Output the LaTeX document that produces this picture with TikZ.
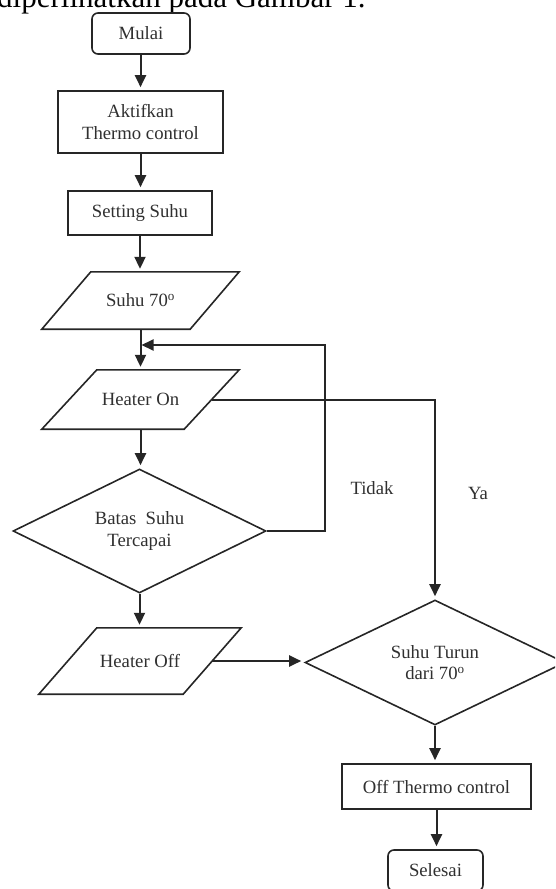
\documentclass[tikz,border=0pt]{standalone}
\usepackage{fontspec}
\setmainfont{Liberation Serif}
\usetikzlibrary{arrows.meta,shapes.geometric}
\definecolor{ink}{HTML}{262626}
\definecolor{txt}{HTML}{303030}
\newcommand{\slantbox}[2]{\draw[line] ([xshift=#2]#1.north west) -- ([xshift=#2]#1.north east) -- ([xshift=-#2]#1.south east) -- ([xshift=-#2]#1.south west) -- cycle;}
\begin{document}
\begin{tikzpicture}[x=1pt,y=-1pt,
  line/.style={draw=ink, line width=1.6pt},
  arr/.style={draw=ink, line width=2pt, -{Triangle[length=12pt,width=11pt]}, shorten >=3pt},
  arrloop/.style={draw=ink, line width=2pt, -{Triangle[length=12pt,width=11pt]}, shorten >=1pt},
  base/.style={inner sep=0pt, align=center, text=txt, font=\fontsize{18.7}{21.5}\selectfont},
  term/.style={base, draw=ink, line width=1.6pt, rounded corners=6pt},
  proc/.style={base, draw=ink, line width=1.6pt},
  io/.style={base},
  dec/.style={base, shape=diamond, aspect=2, draw=ink, line width=1.6pt},
  lbl/.style={base},
  captext/.style={inner sep=0pt, anchor=base west, text=black, font=\fontsize{31}{36}\selectfont}
]
\useasboundingbox (0,0) rectangle (555,889);
\clip (0,0) rectangle (555,889);

\node[captext] (caption) at (-3,7) {diperlihatkan pada Gambar 1.};

\node[term, minimum width=98, minimum height=41] (mulai) at (141,33.5) {Mulai};
\node[proc, minimum width=165, minimum height=62] (akt) at (140.5,122) {Aktifkan\\Thermo control};
\node[proc, minimum width=144, minimum height=44] (set) at (140,213) {Setting Suhu};
\node[io, minimum width=148, minimum height=57] (s70) at (140.5,300.5) {Suhu 70\textsuperscript{o}};
\slantbox{s70}{24.5}
\node[io, minimum width=142, minimum height=59] (hon) at (140.5,399.5) {Heater On};
\slantbox{hon}{27.5}
\node[dec, minimum width=253, minimum height=124] (batas) at (139.5,531) {Batas\ \ Suhu\\Tercapai};
\node[io, minimum width=144, minimum height=66] (hoff) at (140,661) {Heater Off};
\slantbox{hoff}{29}
\node[dec, minimum width=260, minimum height=125] (turun) at (435,662.5) {Suhu Turun\\dari 70\textsuperscript{o}};
\node[proc, minimum width=189, minimum height=45] (off) at (436.5,786.5) {Off Thermo control};
\node[term, minimum width=95, minimum height=41] (sel) at (435.5,870.5) {Selesai};

\node[lbl] (tidak) at (372,488) {Tidak};
\node[lbl] (ya) at (478,493) {Ya};

\coordinate (loop) at (325,345);

\draw[arr] (mulai.south -| akt.north) -- (akt.north);
\draw[arr] (akt.south) -- (akt.south |- set.north);
\draw[arr] (set.south) -- (set.south |- s70.north);
\draw[arr] (s70.south) -- (s70.south |- hon.north);
\draw[arr] (hon.south) -- (hon.south |- batas.north);
\draw[arr] (batas.south) -- (batas.south |- hoff.north);
\draw[arrloop] (batas.east) -| (loop) -- (s70.south |- loop);
\draw[arr] (hon.east) -| (turun.north);
\draw[arr] (hoff.east) -- (hoff.east -| turun.west);
\draw[arr] (turun.south) -- (turun.south |- off.north);
\draw[arr] (off.south) -- (off.south |- sel.north);
\end{tikzpicture}
\end{document}
